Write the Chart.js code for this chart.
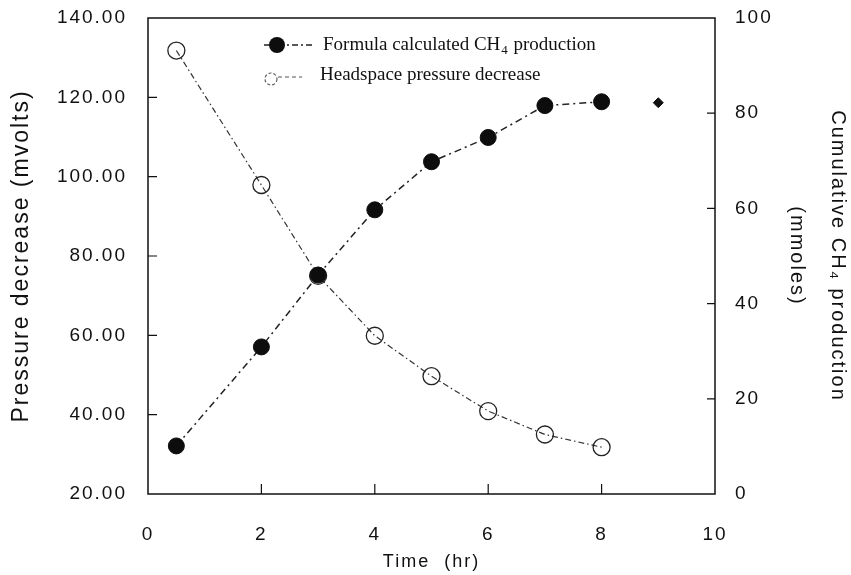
<!DOCTYPE html>
<html><head><meta charset="utf-8">
<style>html,body{margin:0;padding:0;background:#fff}canvas{display:block}</style>
<script src="https://cdn.jsdelivr.net/npm/chart.js@4.4.0/dist/chart.umd.min.js"></script>
</head><body>
<canvas id="c" width="851" height="575"></canvas>
<script>
// ---- data ----
const time = [0.5, 2, 3, 4, 5, 6, 7, 8];
const ch4Production = [10.1, 30.9, 46.0, 59.7, 69.8, 74.9, 81.6, 82.4];
const pressureDecrease = [131.8, 97.9, 75.0, 59.9, 49.7, 40.9, 35.0, 31.8];
const strayTime = [9];
const strayCh4 = [82.2];
const xTicks = [0, 2, 4, 6, 8, 10];
const leftTicks = [20, 40, 60, 80, 100, 120, 140];
const rightTicks = [0, 20, 40, 60, 80, 100];
const seriesLabels = ['Formula calculated CH\u2084 production', 'Headspace pressure decrease'];
const xTitle = 'Time  (hr)';
const leftTitle = 'Pressure decrease (mvolts)';
const rightTitle = ['Cumulative CH\u2084 production', '(mmoles)'];

const pts = (xs, ys) => xs.map((x, i) => ({x: x, y: ys[i]}));
const INK = '#111';
const SANS = "'Liberation Sans', Arial, sans-serif";
const SERIF = "'Liberation Serif', 'Times New Roman', serif";

const spacing = {
  id: 'spacing',
  beforeUpdate(c) { c.ctx.letterSpacing = '2px'; },
  beforeLayout(c) { c.ctx.letterSpacing = '2px'; },
  beforeDraw(c) { c.ctx.letterSpacing = '2px'; }
};

function tickSet(arr) { return s => { s.ticks = arr.map(v => ({value: v})); }; }
function fixSize(prop, val) {
  return s => { s[prop] = val; s.paddingTop = 0; s.paddingBottom = 0; s.paddingLeft = 0; s.paddingRight = 0; };
}

const frame = {
  id: 'frame',
  afterDatasetsDraw(c) {
    const ctx = c.ctx, a = c.chartArea;
    const x = c.scales.x, yl = c.scales.yL, yr = c.scales.yR;
    ctx.save();
    ctx.strokeStyle = INK; ctx.lineWidth = 1.5; ctx.setLineDash([]);
    ctx.strokeRect(a.left, a.top, a.right - a.left, a.bottom - a.top);
    ctx.lineWidth = 1.2;
    ctx.beginPath();
    xTicks.slice(1, -1).forEach(v => { const px = x.getPixelForValue(v); ctx.moveTo(px, a.bottom); ctx.lineTo(px, a.bottom - 10); });
    leftTicks.slice(1, -1).forEach(v => { const py = yl.getPixelForValue(v); ctx.moveTo(a.left, py); ctx.lineTo(a.left + 9, py); });
    rightTicks.slice(1, -1).forEach(v => { const py = yr.getPixelForValue(v); ctx.moveTo(a.right, py); ctx.lineTo(a.right - 8, py); });
    ctx.stroke();
    ctx.restore();
  }
};

function richText(ctx, text, x, y, size) {
  const parts = text.split('\u2084');
  ctx.font = size + 'px ' + SERIF;
  ctx.fillText(parts[0], x, y);
  let w = ctx.measureText(parts[0]).width;
  if (parts.length > 1) {
    ctx.font = Math.round(size * 0.68) + 'px ' + SERIF;
    ctx.fillText('4', x + w + 1, y + 6);
    w += ctx.measureText('4').width + 2;
    ctx.font = size + 'px ' + SERIF;
    ctx.fillText(parts[1], x + w, y);
  }
}

const legendPlugin = {
  id: 'innerLegend',
  afterDraw(c) {
    const ctx = c.ctx, ds = c.data.datasets;
    ctx.save();
    ctx.letterSpacing = '0px';
    // entry 1
    ctx.strokeStyle = ds[0].borderColor; ctx.lineWidth = 1.5; ctx.setLineDash([6, 3, 2, 3]);
    ctx.beginPath(); ctx.moveTo(264, 45); ctx.lineTo(314, 45); ctx.stroke();
    ctx.setLineDash([]);
    ctx.fillStyle = ds[0].pointBackgroundColor;
    ctx.beginPath(); ctx.arc(277, 45, 8, 0, Math.PI * 2); ctx.fill();
    // entry 2
    ctx.strokeStyle = '#555'; ctx.lineWidth = 1.1; ctx.setLineDash([4, 3]);
    ctx.beginPath(); ctx.moveTo(278, 77); ctx.lineTo(302, 77); ctx.stroke();
    ctx.setLineDash([3, 2]);
    ctx.beginPath(); ctx.arc(271, 79, 6, 0, Math.PI * 2); ctx.stroke();
    ctx.setLineDash([]);
    ctx.fillStyle = INK; ctx.textBaseline = 'middle'; ctx.textAlign = 'left';
    richText(ctx, ds[0].label, 323, 45, 19);
    richText(ctx, ds[1].label, 320, 75, 19);
    ctx.restore();
  }
};

new Chart(document.getElementById('c'), {
  type: 'line',
  data: {
    datasets: [
      {
        label: seriesLabels[0], data: pts(time, ch4Production), yAxisID: 'yR',
        borderColor: '#222', borderWidth: 1.5, borderDash: [7, 4, 2, 4],
        pointRadius: 8, pointHoverRadius: 8, pointBackgroundColor: '#0d0d0d', pointBorderColor: '#0d0d0d', pointBorderWidth: 1,
        tension: 0, fill: false
      },
      {
        label: seriesLabels[1], data: pts(time, pressureDecrease), yAxisID: 'yL',
        borderColor: '#333', borderWidth: 1.2, borderDash: [6, 3, 1.5, 3],
        pointRadius: 8.5, pointHoverRadius: 8.5, pointBackgroundColor: 'rgba(255,255,255,0)', pointBorderColor: '#222', pointBorderWidth: 1.3,
        tension: 0, fill: false
      },
      {
        label: 'mark', data: pts(strayTime, strayCh4), yAxisID: 'yR', showLine: false,
        pointStyle: 'rectRot', pointRadius: 5, pointBackgroundColor: '#111', pointBorderColor: '#111'
      }
    ]
  },
  options: {
    responsive: false, animation: false, devicePixelRatio: 1,
    layout: {padding: {top: 18, left: 0, right: 0, bottom: 0}},
    plugins: {legend: {display: false}, tooltip: {enabled: false}},
    scales: {
      x: {
        type: 'linear', position: 'bottom', min: 0, max: 10,
        grid: {display: false, drawTicks: false}, border: {display: false},
        afterBuildTicks: tickSet(xTicks),
        ticks: {color: INK, font: {family: SANS, size: 19}, padding: 29, maxRotation: 0, callback: v => String(v)},
        title: {display: true, text: xTitle, color: INK, font: {family: SANS, size: 18}, padding: {top: 0, bottom: 2}},
        afterFit: fixSize('height', 81)
      },
      yL: {
        type: 'linear', position: 'left', min: 20, max: 140,
        grid: {display: false, drawTicks: false}, border: {display: false},
        afterBuildTicks: tickSet(leftTicks),
        ticks: {color: INK, font: {family: SANS, size: 19}, padding: 21, callback: v => Number(v).toFixed(2)},
        title: {display: true, text: leftTitle, color: INK, font: {family: SANS, size: 23}, padding: {top: 8, bottom: 0}},
        afterFit: fixSize('width', 148)
      },
      yR: {
        type: 'linear', position: 'right', min: 0, max: 100,
        grid: {display: false, drawTicks: false}, border: {display: false},
        afterBuildTicks: tickSet(rightTicks),
        ticks: {color: INK, font: {family: SANS, size: 19}, padding: 20, callback: v => String(v)},
        title: {display: true, text: rightTitle, color: INK, font: {family: SANS, size: 20, lineHeight: 2.05}, padding: {top: -7.5, bottom: 0}},
        afterFit: fixSize('width', 136)
      }
    }
  },
  plugins: [spacing, frame, legendPlugin]
});
</script>
</body></html>
